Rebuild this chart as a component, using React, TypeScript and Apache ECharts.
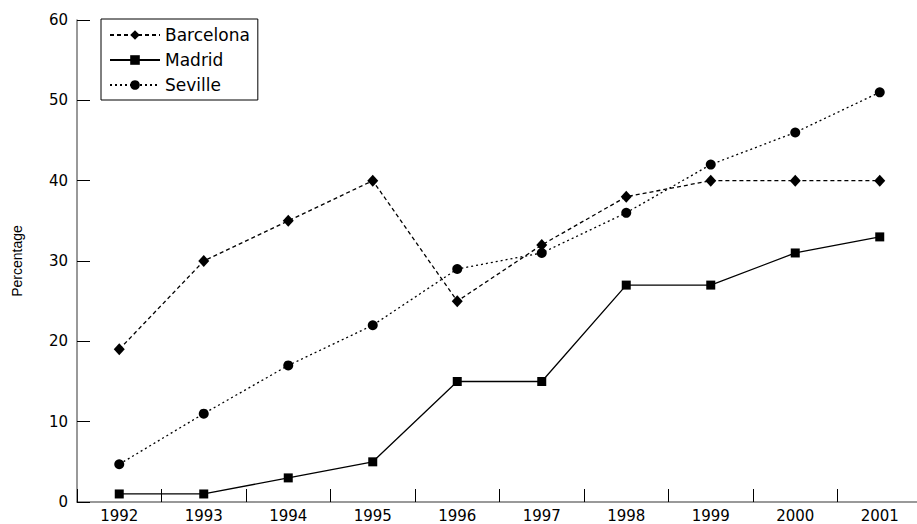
import React, { useEffect, useRef } from "react";
import * as echarts from "echarts";

const years = ["1992", "1993", "1994", "1995", "1996", "1997", "1998", "1999", "2000", "2001"];
const barcelona = [19, 30, 35, 40, 25, 32, 38, 40, 40, 40];
const madrid = [1, 1, 3, 5, 15, 15, 27, 27, 31, 33];
const seville = [4.7, 11, 17, 22, 29, 31, 36, 42, 46, 51];

const tickFont = "'DejaVu Sans', sans-serif";

export default function App() {
  const ref = useRef<HTMLDivElement>(null);
  useEffect(() => {
    if (!ref.current) return;
    const chart = echarts.init(ref.current, undefined, { renderer: "svg" });
    const common = {
      type: "line",
      color: "#000",
      symbolKeepAspect: true,
    };
    chart.setOption({
      animation: false,
      backgroundColor: "#fff",
      grid: { left: 77, right: -5, top: 20, bottom: 22, outerBoundsMode: "none", containLabel: false },
      legend: {
        orient: "vertical",
        left: 101,
        top: 19,
        padding: [7, 8, 6, 8],
        itemGap: 7,
        itemWidth: 50,
        itemHeight: 12,
        borderColor: "#000",
        borderWidth: 1,
        textStyle: { fontFamily: tickFont, fontSize: 17, color: "#000", height: 18, lineHeight: 18 },
        data: ["Barcelona", "Madrid", "Seville"],
      },
      xAxis: {
        type: "category",
        data: years,
        boundaryGap: true,
        axisLine: { show: true, lineStyle: { color: "#777", width: 1.5 } },
        axisTick: { show: true, inside: true, length: 13, interval: 0, lineStyle: { color: "#000", width: 1 } },
        axisLabel: { fontFamily: tickFont, fontSize: 15, color: "#000", margin: 6 },
      },
      yAxis: {
        type: "value",
        min: 0,
        max: 60,
        interval: 10,
        name: "Percentage",
        nameLocation: "middle",
        nameGap: 53,
        nameTextStyle: { fontFamily: "'Liberation Sans', Arial, sans-serif", fontSize: 14, color: "#000" },
        splitLine: { show: false },
        axisLine: { show: true, lineStyle: { color: "#777", width: 1.5 } },
        axisTick: { show: true, inside: true, length: 13, lineStyle: { color: "#000", width: 1 } },
        axisLabel: { fontFamily: tickFont, fontSize: 15, color: "#000", margin: 9 },
      },
      series: [
        {
          ...common,
          name: "Barcelona",
          data: barcelona,
          symbol: "diamond",
          symbolSize: [11, 12],
          lineStyle: { color: "#000", width: 1.3, type: [4, 3] },
          itemStyle: { color: "#000" },
        },
        {
          ...common,
          name: "Madrid",
          data: madrid,
          symbol: "rect",
          symbolSize: 9,
          lineStyle: { color: "#000", width: 1.3, type: "solid" },
          itemStyle: { color: "#000" },
        },
        {
          ...common,
          name: "Seville",
          data: seville,
          symbol: "circle",
          symbolSize: 10,
          lineStyle: { color: "#000", width: 1.3, type: [2, 3] },
          itemStyle: { color: "#000" },
        },
      ],
    });
    return () => chart.dispose();
  }, []);
  return <div ref={ref} style={{ width: 917, height: 524, position: "absolute", left: 0, top: 0 }} />;
}
